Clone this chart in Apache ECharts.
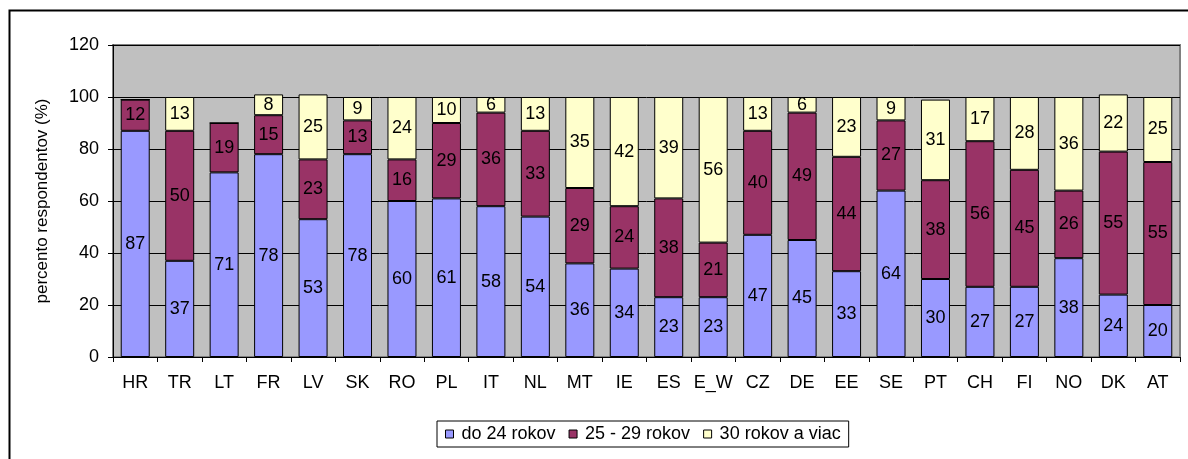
<!DOCTYPE html>
<html>
<head>
<meta charset="utf-8">
<script src="https://cdn.jsdelivr.net/npm/echarts@6/dist/echarts.min.js"></script>
<style>
  html, body { margin: 0; padding: 0; background: #fff; }
  #chart { width: 1188px; height: 459px; }
</style>
</head>
<body>
<div id="chart"></div>
<script>
var countries = ['HR', 'TR', 'LT', 'FR', 'LV', 'SK', 'RO', 'PL', 'IT', 'NL', 'MT', 'IE',
  'ES', 'E_W', 'CZ', 'DE', 'EE', 'SE', 'PT', 'CH', 'FI', 'NO', 'DK', 'AT'];
var do24 = [87, 37, 71, 78, 53, 78, 60, 61, 58, 54, 36, 34, 23, 23, 47, 45, 33, 64, 30, 27, 27, 38, 24, 20];
var od25do29 = [12, 50, 19, 15, 23, 13, 16, 29, 36, 33, 29, 24, 38, 21, 40, 49, 44, 27, 38, 56, 45, 26, 55, 55];
var od30 = [0, 13, 0, 8, 25, 9, 24, 10, 6, 13, 35, 42, 39, 56, 13, 6, 23, 9, 31, 17, 28, 36, 22, 25];
var seriesNames = ['do 24 rokov', '25 - 29 rokov', '30 rokov a viac'];
var yTicks = [0, 20, 40, 60, 80, 100, 120];

var chart = echarts.init(document.getElementById('chart'));
var font = 'Liberation Sans, Arial, sans-serif';

function barSeries(name, data, color) {
  return {
    name: name,
    type: 'bar',
    stack: 'total',
    barWidth: 29,
    data: data,
    itemStyle: { color: color, borderColor: '#000', borderWidth: 1 },
    label: {
      show: true,
      position: 'inside',
      color: '#000',
      fontFamily: font,
      fontSize: 18,
      formatter: function (p) { return p.value ? p.value : ''; }
    }
  };
}

chart.setOption({
  animation: false,
  textStyle: { fontFamily: font },
  graphic: [{
    type: 'rect',
    shape: { x: 9.5, y: 10.5, width: 1300, height: 600 },
    style: { fill: 'none', stroke: '#000', lineWidth: 2 },
    silent: true
  }],
  grid: {
    left: 113, right: 8, top: 45, bottom: 102,
    show: true,
    backgroundColor: '#C0C0C0',
    borderColor: '#808080',
    borderWidth: 2
  },
  legend: {
    top: 421,
    left: 437,
    data: seriesNames,
    icon: 'rect',
    itemWidth: 8,
    itemHeight: 8,
    itemGap: 13,
    borderColor: '#000',
    borderWidth: 1,
    padding: [4, 8, 4, 8],
    textStyle: { color: '#000', fontSize: 18, fontFamily: font, padding: [0, 0, 0, 3] },
    itemStyle: { borderColor: '#000', borderWidth: 1 }
  },
  xAxis: {
    type: 'category',
    data: countries,
    axisLine: { lineStyle: { color: '#000', width: 1 } },
    axisTick: { show: true, interval: 0, length: 5, lineStyle: { color: '#000' } },
    axisLabel: { color: '#000', fontSize: 18, margin: 17, interval: 0, fontFamily: font }
  },
  yAxis: {
    type: 'value',
    min: 0,
    max: 120,
    interval: 20,
    name: 'percento respondentov (%)',
    nameLocation: 'middle',
    nameGap: 62,
    nameTextStyle: { color: '#000', fontSize: 17, fontFamily: font },
    axisLine: { show: true, lineStyle: { color: '#000' } },
    axisTick: { show: true, length: 5, lineStyle: { color: '#000' } },
    axisLabel: {
      color: '#000', fontSize: 18, margin: 14, fontFamily: font,
      formatter: function (v) { return yTicks.indexOf(v) >= 0 ? v : ''; }
    },
    splitLine: { show: true, lineStyle: { color: '#000', width: 1 } }
  },
  series: [
    barSeries(seriesNames[0], do24, '#9999FF'),
    barSeries(seriesNames[1], od25do29, '#993366'),
    barSeries(seriesNames[2], od30, '#FFFFCC')
  ]
});
</script>
</body>
</html>
